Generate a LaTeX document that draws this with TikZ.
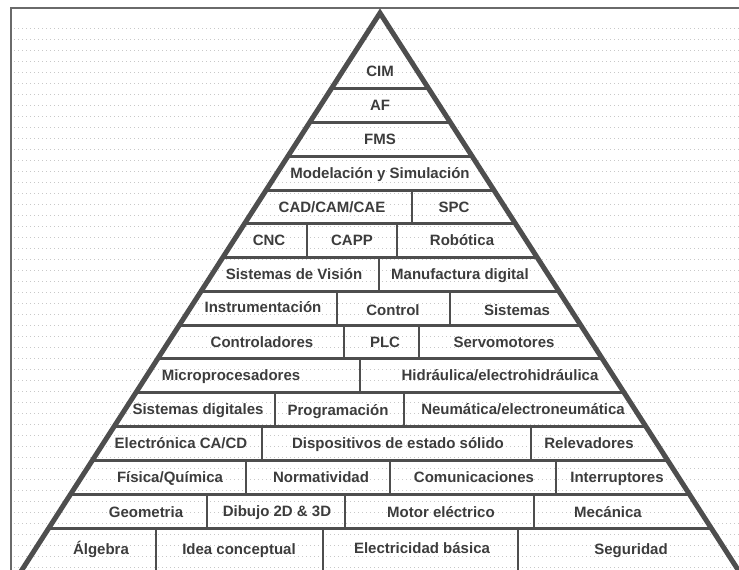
\documentclass[tikz,border=0pt]{standalone}
\usepackage{fontspec}
\setmainfont{Liberation Sans}
\definecolor{lncol}{HTML}{4E4E4E}
\definecolor{txtcol}{HTML}{3C3C3C}
\definecolor{framecol}{HTML}{6A6A6A}
\definecolor{dotcol}{HTML}{C8C8C8}
\begin{document}
\begin{tikzpicture}[x=1pt,y=-1pt,
  lbl/.style={font=\bfseries\fontsize{15}{15}\selectfont, text=txtcol,
    anchor=base, yshift=-5.5pt, inner sep=0pt},
  rowline/.style={draw=lncol, line width=3pt},
  divline/.style={draw=lncol, line width=2.6pt},
  outline/.style={draw=lncol, line width=5pt, line join=miter},
  frameline/.style={draw=framecol, line width=2pt},
  dotline/.style={draw=dotcol, line width=0.8pt, dash pattern=on 0.8pt off 3.2pt}]
\useasboundingbox (0,0) rectangle (739,570);
\clip (0,0) rectangle (739,570);

% faint dotted ruling of the paper
\foreach \yy in {28,39,...,570}
  \draw[dotline] (14,\yy) -- (739,\yy);

% page frame (top and left edges)
\draw[frameline] (10,8) -- (739,8);
\draw[frameline] (11,8) -- (11,570);

% horizontal row boundaries, spanning the pyramid at each height
\foreach \yy in {88,122,156,190,223,257,291,325,358,392,426,460,494,528}{
  \pgfmathsetmacro{\hw}{0.643*(\yy-13)}
  \draw[rowline] ({380-\hw},\yy) -- ({380+\hw},\yy);
}

% vertical dividers between cells of a row: x / top / bottom
\foreach \xx/\ya/\yb in {
  412/190/223,
  307/223/257, 397/223/257,
  379/257/291,
  337/291/325, 450/291/325,
  344/325/358, 419/325/358,
  360/358/392,
  275/392/426, 404/392/426,
  262/426/460, 531/426/460,
  246/460/494, 390/460/494, 556/460/494,
  207/494/528, 345/494/528, 534/494/528,
  156/528/580, 323/528/580, 518/528/580}
  \draw[divline] (\xx,\ya) -- (\xx,\yb);

% pyramid outline
\draw[outline] ({380-0.643*600},613) -- (380,13) -- ({380+0.643*600},613);

% labels, top to bottom
\node[lbl] (cim)   at (380,71)  {CIM};
\node[lbl] (af)    at (380,105) {AF};
\node[lbl] (fms)   at (380,139) {FMS};
\node[lbl] (model) at (380,173) {Modelación y Simulación};

\node[lbl] (cad)   at (332,206.5) {CAD/CAM/CAE};
\node[lbl] (spc)   at (454,206.5) {SPC};

\node[lbl] (cnc)   at (269,240) {CNC};
\node[lbl] (capp)  at (352,240) {CAPP};
\node[lbl] (robot) at (462,240) {Robótica};

\node[lbl] (vision) at (294,274) {Sistemas de Visión};
\node[lbl] (manuf)  at (460,274) {Manufactura digital};

\node[lbl] (instr)  at (263,307) {Instrumentación};
\node[lbl] (ctrl)   at (393,309.5) {Control};
\node[lbl] (sist)   at (517,309.5) {Sistemas};

\node[lbl] (contr)  at (262,341.5) {Controladores};
\node[lbl] (plc)    at (385,342) {PLC};
\node[lbl] (servo)  at (504,342) {Servomotores};

\node[lbl] (micro)  at (231,375) {Microprocesadores};
\node[lbl] (hidr)   at (500,375) {Hidráulica/electrohidráulica};

\node[lbl] (sdig)   at (198,409) {Sistemas digitales};
\node[lbl] (prog)   at (338,409.5) {Programación};
\node[lbl] (neum)   at (523,409) {Neumática/electroneumática};

\node[lbl] (elec)   at (181,443) {Electrónica CA/CD};
\node[lbl] (disp)   at (398,443) {Dispositivos de estado sólido};
\node[lbl] (relev)  at (589,443) {Relevadores};

\node[lbl] (fisq)   at (170,477) {Física/Química};
\node[lbl] (norm)   at (321,476.5) {Normatividad};
\node[lbl] (comun)  at (474,477) {Comunicaciones};
\node[lbl] (inter)  at (617,477) {Interruptores};

\node[lbl] (geom)   at (146,512) {Geometria};
\node[lbl] (dibujo) at (277,510.5) {Dibujo 2D \& 3D};
\node[lbl] (motor)  at (441,512) {Motor eléctrico};
\node[lbl] (mecan)  at (608,512) {Mecánica};

\node[lbl] (alg)    at (101,549) {Álgebra};
\node[lbl] (idea)   at (239,549) {Idea conceptual};
\node[lbl] (elecb)  at (422,548) {Electricidad básica};
\node[lbl] (segur)  at (631,549) {Seguridad};
\end{tikzpicture}
\end{document}
